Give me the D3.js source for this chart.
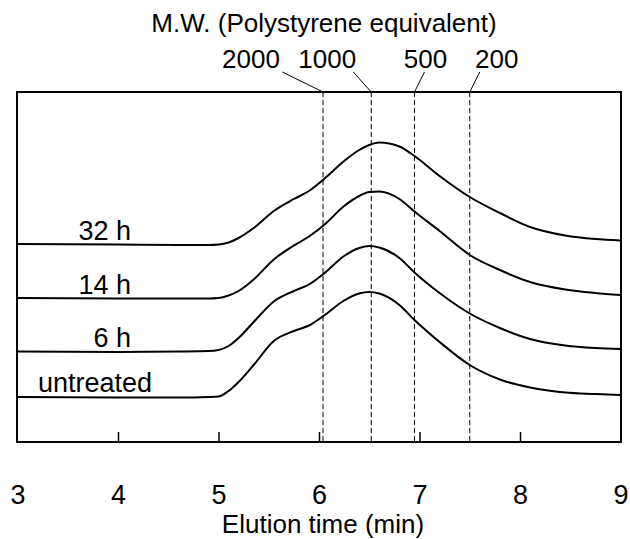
<!DOCTYPE html>
<html>
<head>
<meta charset="utf-8">
<script src="https://cdn.jsdelivr.net/npm/d3@7"></script>
<style>
  html, body { margin: 0; padding: 0; background: #fff; }
  svg { display: block; font-family: "Liberation Sans", Arial, sans-serif; }
</style>
</head>
<body>
<svg id="chart" width="630" height="539"></svg>
<script>
// ---- data ----
const times = [3.0, 4.0, 4.6, 4.9, 5.0, 5.1, 5.2, 5.35, 5.55, 5.75, 5.9, 6.05, 6.25, 6.4, 6.5, 6.6, 6.8, 6.95, 7.2, 7.5, 7.8, 8.1, 8.45, 8.75, 9.0];
const seriesNames = ["32 h", "14 h", "6 h", "untreated"];
const h32 = [19.8, 19.75, 19.7, 19.7, 19.75, 19.95, 20.4, 21.4, 23.1, 24.3, 25.1, 26.3, 28.1, 29.2, 29.7, 29.95, 29.55, 28.6, 26.6, 24.5, 22.9, 21.5, 20.65, 20.3, 20.15];
const h14 = [14.4, 14.35, 14.35, 14.35, 14.4, 14.65, 15.1, 16.25, 18.25, 19.65, 20.55, 21.7, 23.6, 24.6, 25.0, 25.05, 24.3, 23.05, 21.1, 18.7, 17.2, 16.0, 15.25, 14.9, 14.7];
const h6 = [9.05, 9.0, 9.05, 9.1, 9.2, 9.6, 10.4, 12.0, 14.05, 15.1, 15.75, 16.85, 18.6, 19.4, 19.6, 19.45, 18.4, 16.95, 14.9, 12.85, 11.4, 10.3, 9.65, 9.4, 9.3];
const untreated = [4.5, 4.45, 4.45, 4.5, 4.55, 5.1, 6.0, 7.7, 10.1, 11.1, 11.65, 12.65, 14.15, 14.85, 15.0, 14.85, 13.7, 12.2, 10.0, 7.7, 6.25, 5.45, 4.95, 4.8, 4.7];
const xTicks = [3, 4, 5, 6, 7, 8, 9];
const mwLabels = ["2000", "1000", "500", "200"];
const mwTimes = [6.04, 6.52, 6.95, 7.50];
const xTitle = "Elution time (min)";
const topTitle = "M.W. (Polystyrene equivalent)";

// ---- layout ----
const svg = d3.select("#chart");
const L = 17.5, R = 620.5, T = 92, B = 442;
const x = d3.scaleLinear().domain([3, 9]).range([L, R]);
const y = d3.scaleLinear().domain([0, 35]).range([B, T]);

const allSeries = [h32, h14, h6, untreated];
const line = d3.line().x(d => x(d[0])).y(d => y(d[1])).curve(d3.curveMonotoneX);

// dashed MW lines
svg.append("g").selectAll("line").data(mwTimes).join("line")
  .attr("x1", d => x(d)).attr("x2", d => x(d))
  .attr("y1", T).attr("y2", B)
  .attr("stroke", "#000").attr("stroke-width", 1)
  .attr("stroke-dasharray", "5,3");

// curves
svg.append("g").selectAll("path").data(allSeries).join("path")
  .attr("d", s => line(times.map((t, i) => [t, s[i]])))
  .attr("fill", "none").attr("stroke", "#000").attr("stroke-width", 2);

// frame
svg.append("rect").attr("x", L - 0.5).attr("y", T).attr("width", R - L + 1).attr("height", B - T)
  .attr("fill", "none").attr("stroke", "#000").attr("stroke-width", 2);

// x axis (ticks inward)
const xAxis = d3.axisBottom(x).tickValues(xTicks).tickSize(0).tickPadding(0).tickFormat(d3.format("d"));
const gx = svg.append("g").attr("transform", `translate(0,${B})`).call(xAxis);
gx.select(".domain").remove();
gx.selectAll(".tick text").attr("y", 62).attr("dy", 0).attr("font-size", 27)
  .attr("font-family", "Liberation Sans, Arial, sans-serif").attr("fill", "#000");
gx.selectAll(".tick").filter(d => d > 3 && d < 9).append("line")
  .attr("y1", 0).attr("y2", -10).attr("stroke", "#000").attr("stroke-width", 1.5);

svg.append("text").attr("x", 323).attr("y", 533).attr("text-anchor", "middle")
  .attr("font-size", 26).text(xTitle);

// top title
svg.append("text").attr("x", 324).attr("y", 32).attr("text-anchor", "middle")
  .attr("font-size", 26).text(topTitle);

// MW labels and leaders
const labelDx = [-72, -44, 11, 27];
const leaderDx = [-40.7, -18, 10, 10];
mwTimes.forEach((t, i) => {
  svg.append("text").attr("x", x(t) + labelDx[i]).attr("y", 68).attr("text-anchor", "middle")
    .attr("font-size", 26).text(mwLabels[i]);
  svg.append("line").attr("x1", x(t) + leaderDx[i]).attr("y1", 72).attr("x2", x(t)).attr("y2", T)
    .attr("stroke", "#000").attr("stroke-width", 1);
});

// series labels
const labelY = [240, 293.5, 347, 392];
seriesNames.forEach((n, i) => {
  const isLeft = n === "untreated";
  svg.append("text")
    .attr("x", isLeft ? 38 : 131).attr("y", labelY[i])
    .attr("text-anchor", isLeft ? "start" : "end")
    .attr("font-size", 27).text(n);
});
</script>
</body>
</html>
